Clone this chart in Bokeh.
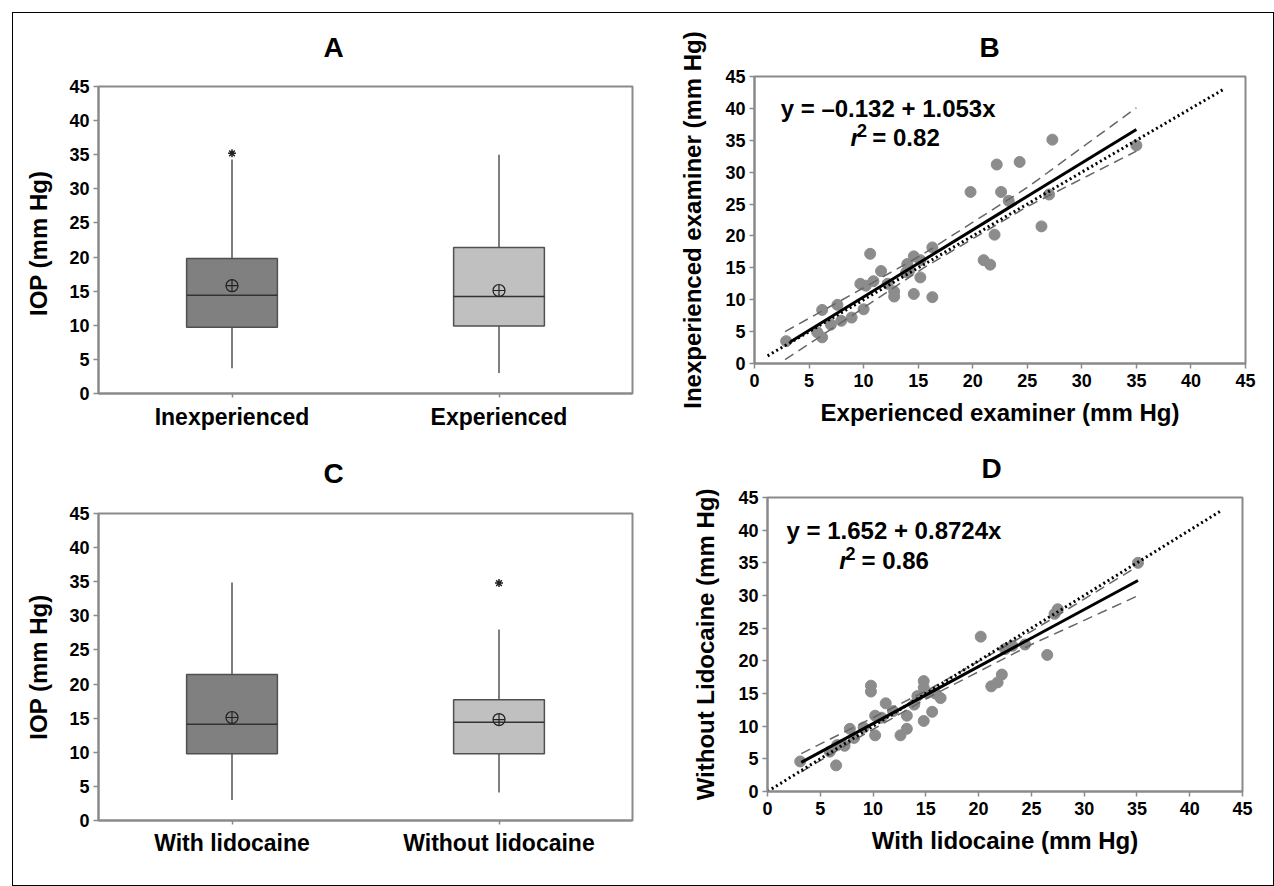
from bokeh.plotting import figure
from bokeh.models import Range1d, FactorRange, FixedTicker, Label, Div
from bokeh.embed import file_html
from bokeh.resources import INLINE

FONT = "Liberation Sans"
GRAY = "#8a8a8a"

# ---------------- data ----------------
# Panel A (box plot)
a_cats = ["Inexperienced", "Experienced"]
a_q1 = [9.7, 9.9]
a_med = [14.4, 14.2]
a_q3 = [19.8, 21.4]
a_lo = [3.7, 3.0]
a_hi = [34.3, 35.0]
a_mean = [15.8, 15.1]
a_out_cat = ["Inexperienced"]
a_out_val = [35.2]

# Panel C (box plot)
c_cats = ["With lidocaine", "Without lidocaine"]
c_q1 = [9.8, 9.8]
c_med = [14.1, 14.4]
c_q3 = [21.4, 17.7]
c_lo = [3.0, 4.1]
c_hi = [34.9, 28.0]
c_mean = [15.1, 14.8]
c_out_cat = ["Without lidocaine"]
c_out_val = [34.8]

# Panel B (scatter)
b_x = [2.9, 5.75, 6.2, 6.2, 7.0, 7.6, 7.95, 8.9, 9.7, 10.0, 10.2, 10.6, 10.9,
       11.6, 12.2, 12.8, 12.8, 13.9, 14.0, 14.2, 14.6, 14.6, 15.2, 15.2, 16.3,
       16.3, 19.8, 21.0, 21.6, 22.0, 22.2, 22.6, 23.3, 24.3, 26.3, 27.0, 27.3, 35.0]
b_y = [3.5, 4.9, 8.4, 4.1, 6.1, 9.2, 6.7, 7.2, 12.5, 8.5, 12.2, 17.2, 12.9,
       14.5, 12.5, 11.3, 10.5, 14.3, 15.6, 14.6, 16.8, 10.9, 16.2, 13.5, 18.2,
       10.4, 26.9, 16.2, 15.5, 20.2, 31.2, 26.9, 25.5, 31.6, 21.5, 26.5, 35.1, 34.2]
b_fit_x = [3.3, 35.0]
b_fit_y = [3.4, 36.7]
b_band_x = [2.8, 9.0, 15.5, 25.0, 35.0]
b_band_hi = [5.0, 10.9, 17.2, 27.6, 40.1]
b_band_lo = [0.6, 7.6, 15.0, 24.6, 33.3]
b_ident = [1.2, 43.0]

# Panel D (scatter)
d_x = [3.1, 5.9, 6.5, 6.6, 7.3, 7.8, 8.2, 9.1, 9.8, 9.8, 10.2, 10.2, 10.8,
       11.2, 11.9, 12.6, 13.2, 13.2, 13.9, 14.2, 14.8, 14.8, 14.8, 15.1, 15.6,
       15.9, 16.4, 20.2, 21.2, 21.8, 22.2, 22.5, 23.2, 24.4, 26.5, 27.2, 27.5, 35.1]
d_y = [4.6, 6.1, 4.0, 7.1, 7.0, 9.6, 8.2, 9.8, 16.2, 15.3, 8.6, 11.6, 11.3,
       13.5, 12.3, 8.6, 9.6, 11.6, 13.3, 14.6, 16.9, 15.9, 10.8, 15.1, 12.2,
       15.0, 14.3, 23.7, 16.1, 16.7, 17.9, 21.8, 22.3, 22.5, 20.9, 27.2, 27.9, 35.0]
d_fit_x = [3.2, 35.1]
d_fit_y = [4.45, 32.3]
d_band_x = [3.2, 9.0, 15.5, 25.0, 35.0]
d_band_hi = [5.8, 10.5, 15.8, 24.5, 34.4]
d_band_lo = [3.0, 8.6, 14.6, 22.5, 29.9]
d_ident = [0.0, 43.0]

box_fill = ["#808080", "#c0c0c0"]
y_ticks = list(range(0, 46, 5))


def place(left, top):
    return {"position": "absolute", "left": f"{left}px", "top": f"{top}px"}


def style_common(p):
    p.grid.visible = False
    p.outline_line_color = GRAY
    p.outline_line_width = 2
    p.background_fill_color = "white"
    p.border_fill_color = None
    p.background_fill_alpha = 1
    for ax in (p.xaxis[0], p.yaxis[0]):
        ax.axis_line_color = GRAY
        ax.axis_line_width = 2
        ax.major_tick_line_color = GRAY
        ax.major_tick_line_width = 1.5
        ax.major_tick_in = 0
        ax.minor_tick_line_color = None
        ax.major_label_text_font = FONT
        ax.major_label_text_font_style = "bold"
        ax.major_label_text_color = "black"
        ax.axis_label_text_font = FONT
        ax.axis_label_text_font_style = "bold"
        ax.axis_label_text_font_size = "24px"
        ax.axis_label_text_color = "black"
    p.yaxis.ticker = FixedTicker(ticks=y_ticks)
    p.yaxis.major_label_text_font_size = "18px"
    p.yaxis.major_tick_out = 5
    p.yaxis.major_label_standoff = 4
    p.title.align = "left"
    p.title.text_font = FONT
    p.title.text_font_style = "bold"
    p.title.text_font_size = "28px"
    p.title.text_color = "black"


def box_panel(letter, cats, q1, med, q3, lo, hi, mean, out_cat, out_val, ylabel,
              top, bottom, title_off, title_standoff, xlab_standoff, pos):
    p = figure(x_range=FactorRange(*cats), y_range=Range1d(0, 45),
               frame_width=534, frame_height=307,
               min_border_left=98, min_border_right=18,
               min_border_top=top, min_border_bottom=bottom,
               output_backend="svg", toolbar_location=None, title=letter,
               styles=place(*pos))
    style_common(p)
    p.title.offset = title_off
    p.title.standoff = title_standoff
    p.xaxis.major_label_text_font_size = "23px"
    p.xaxis.major_tick_out = 4
    p.xaxis.major_label_standoff = xlab_standoff
    p.yaxis.axis_label = ylabel
    p.yaxis.axis_label_standoff = 14
    # whiskers
    p.segment(x0=cats, y0=lo, x1=cats, y1=q1, line_color="#555555", line_width=1.5)
    p.segment(x0=cats, y0=q3, x1=cats, y1=hi, line_color="#555555", line_width=1.5)
    # boxes
    p.vbar(x=cats, bottom=q1, top=q3, width=0.34, fill_color=box_fill,
           line_color="#505050", line_width=1.5)
    # medians
    p.vbar(x=cats, bottom=med, top=med, width=0.34, fill_alpha=0,
           line_color="#333333", line_width=1.5)
    # means
    p.scatter(x=cats, y=mean, marker="circle_cross", size=12, fill_alpha=0,
              line_color="#222222", line_width=1.2)
    # outliers
    p.scatter(x=out_cat, y=out_val, marker="asterisk", size=8,
              line_color="#222222", line_width=1.5)
    return p


def scatter_panel(letter, xs, ys, fit_x, fit_y, band_x, band_hi, band_lo, ident,
                  xlabel, ylabel, left, right, top, bottom, fw, fh,
                  title_off, title_standoff, ylab_standoff,
                  eq, eq_pos, r_text, r_pos, pos):
    p = figure(x_range=Range1d(0, 45), y_range=Range1d(0, 45),
               frame_width=fw, frame_height=fh,
               min_border_left=left, min_border_right=right,
               min_border_top=top, min_border_bottom=bottom,
               output_backend="svg", toolbar_location=None, title=letter,
               styles=place(*pos))
    style_common(p)
    p.title.offset = title_off
    p.title.standoff = title_standoff
    p.xaxis.ticker = FixedTicker(ticks=y_ticks)
    p.xaxis.major_label_text_font_size = "18px"
    p.xaxis.major_tick_out = 5
    p.xaxis.major_label_standoff = 5
    p.xaxis.axis_label = xlabel
    p.xaxis.axis_label_standoff = 9
    p.yaxis.axis_label = ylabel
    p.yaxis.axis_label_standoff = ylab_standoff

    p.scatter(xs, ys, size=11, fill_color="#8c8c8c", line_color="#8c8c8c")
    p.line(band_x, band_hi, line_color="#666666", line_width=1.5, line_dash="10 6")
    p.line(band_x, band_lo, line_color="#666666", line_width=1.5, line_dash="10 6")
    p.line(ident, ident, line_color="black", line_width=3, line_dash="2 3")
    p.line(fit_x, fit_y, line_color="black", line_width=3)

    common = dict(text_font=FONT, text_font_style="bold", text_color="black",
                  text_baseline="middle", text_align="left")
    p.add_layout(Label(x=eq_pos[0], y=eq_pos[1], text=eq, text_font_size="24px", **common))
    rx, r2x, eqx, ry, r2y = r_pos
    lab_r = dict(common)
    lab_r["text_font_style"] = "bold italic"
    p.add_layout(Label(x=rx, y=ry, text="r", text_font_size="24px", **lab_r))
    p.add_layout(Label(x=r2x, y=r2y, text="2", text_font_size="18px", **common))
    p.add_layout(Label(x=eqx, y=ry, text=r_text, text_font_size="24px", **common))
    return p


pa = box_panel("A", a_cats, a_q1, a_med, a_q3, a_lo, a_hi, a_mean, a_out_cat, a_out_val,
               "IOP  (mm Hg)", top=86, bottom=52, title_off=225, title_standoff=48,
               xlab_standoff=6, pos=(0, 0))
pc = box_panel("C", c_cats, c_q1, c_med, c_q3, c_lo, c_hi, c_mean, c_out_cat, c_out_val,
               "IOP (mm Hg)", top=85, bottom=66, title_off=225, title_standoff=50,
               xlab_standoff=5, pos=(0, 428))
pb = scatter_panel("B", b_x, b_y, b_fit_x, b_fit_y, b_band_x, b_band_hi, b_band_lo, b_ident,
                   "Experienced examiner (mm Hg)", "Inexperienced examiner (mm Hg)",
                   left=104, right=29, top=76, bottom=82, fw=491, fh=287,
                   title_off=225, title_standoff=28, ylab_standoff=16,
                   eq="y = \u20130.132 + 1.053x", eq_pos=(2.4, 40.0),
                   r_text="= 0.82", r_pos=(8.8, 9.4, 10.8, 35.4, 36.5), pos=(650, 0))
pd_ = scatter_panel("D", d_x, d_y, d_fit_x, d_fit_y, d_band_x, d_band_hi, d_band_lo, d_ident,
                    "With lidocaine (mm Hg)", "Without Lidocaine (mm Hg)",
                    left=117, right=32, top=64, bottom=95, fw=475, fh=294,
                    title_off=214, title_standoff=28, ylab_standoff=16,
                    eq="y =  1.652 + 0.8724x", eq_pos=(1.8, 40.0),
                    r_text="= 0.86", r_pos=(6.8, 7.4, 8.9, 35.4, 36.5), pos=(650, 433))

frame_box = Div(text="", width=1262, height=874,
                styles={"position": "absolute", "left": "7px", "top": "7px",
                        "border": "1.5px solid #000", "box-sizing": "border-box",
                        "pointer-events": "none", "z-index": "10"})

open("out.html", "w").write(file_html([pa, pb, pc, pd_, frame_box], INLINE))
